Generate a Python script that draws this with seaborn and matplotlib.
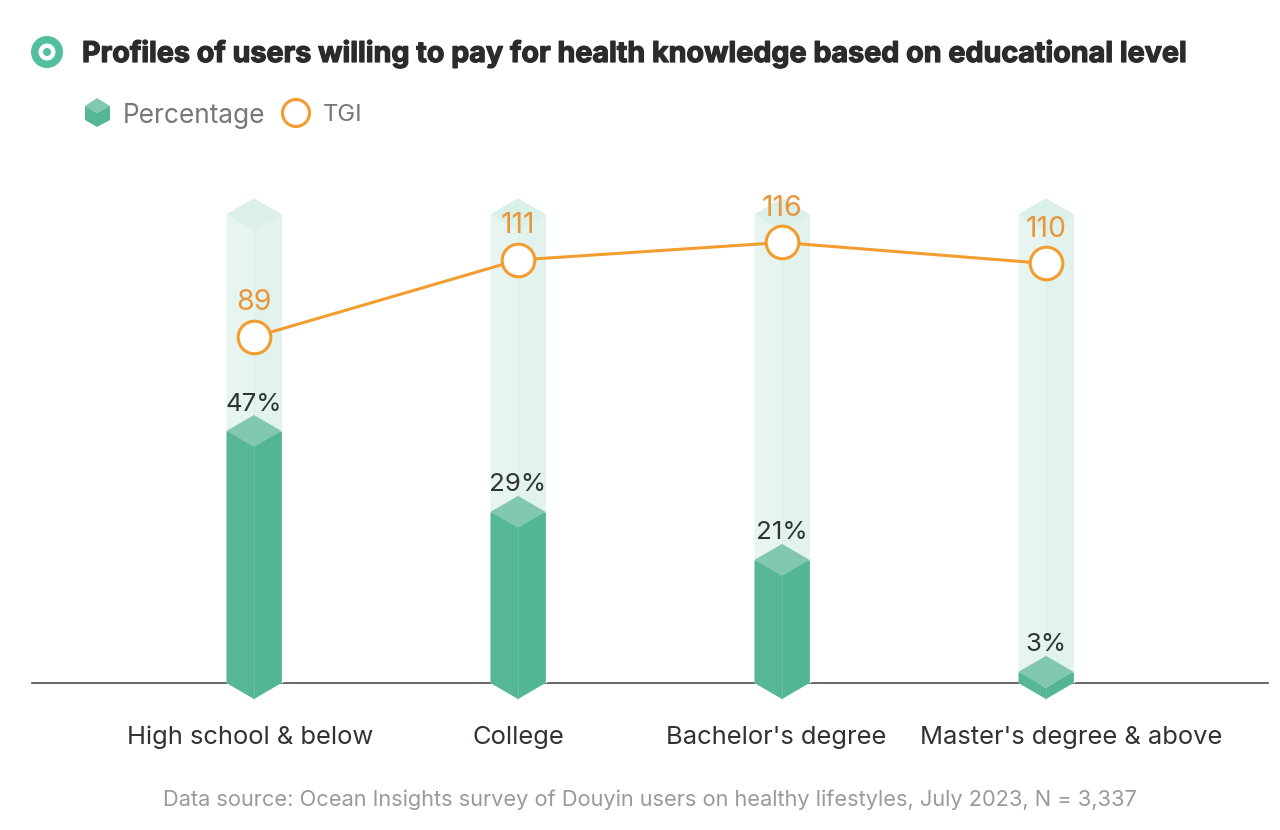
import numpy as np
import pandas as pd
import matplotlib
matplotlib.use("Agg")
import matplotlib.pyplot as plt
import matplotlib.patheffects as pe
import seaborn as sns
from matplotlib.patches import Polygon, Circle
from matplotlib.transforms import ScaledTranslation

# ---- data ----
education = ["High school & below", "College", "Bachelor's degree", "Master's degree & above"]
percentage_labels = ["47%", "29%", "21%", "3%"]
bar_level = [43.0, 29.2, 21.0, 1.9]      # drawn height of each column (units of 1% as drawn)
track_level = [80.0, 80.0, 80.0, 80.0]   # pale background column
tgi = [89, 111, 116, 110]

sns.set_theme(style="white")
plt.rcParams["font.family"] = ["Inter", "DejaVu Sans"]

W, H = 1280, 830
BASE, TOP, LEFT, RIGHT = 683, 170, 32, 1268
PX_PER_PCT, PX_PER_TGI, STEP = 5.86, 3.5, 264.0
HALF_BAR_PX, DIAMOND_PX = 27.5, 16.0

GREEN, GREEN_L, GREEN_TOP = "#52B595", "#56B698", "#82C7B0"
PALE_L, PALE_R, PALE_TOP = "#E7F5F0", "#E2F3ED", "#DAF0E8"
ORANGE, ORANGE_TXT = "#F39C2F", "#E8963A"

df = pd.DataFrame({"education": education, "level": bar_level, "track": track_level, "tgi": tgi})

fig = plt.figure(figsize=(W / 100, H / 100), dpi=100, facecolor="white")
ax = fig.add_axes([LEFT / W, 1 - BASE / H, (RIGHT - LEFT) / W, (BASE - TOP) / H])

width = 2 * HALF_BAR_PX / STEP
sns.barplot(data=df, x="education", y="track", color=PALE_R, saturation=1, width=width, ax=ax, zorder=1)
sns.barplot(data=df, x="education", y="level", color=GREEN, saturation=1, width=width, ax=ax, zorder=2)

ax.set_xlim((LEFT - 254) / STEP, (RIGHT - 254) / STEP)
ax.set_ylim(0, (BASE - TOP) / PX_PER_PCT)
ax.set_xlabel("")
ax.set_ylabel("")
ax.set_yticks([])
for s in ["top", "left", "right"]:
    ax.spines[s].set_visible(False)
ax.spines["bottom"].set_color("#4A4A4A")
ax.spines["bottom"].set_linewidth(1.2)
ax.spines["bottom"].set_zorder(0.5)
ax.tick_params(axis="x", length=0, pad=44, labelsize=18.4, labelcolor="#2F3332")
for lab, dx in zip(ax.get_xticklabels(), [-4, 0, -6, 25]):
    lab.set_va("baseline")
    lab.set_transform(lab.get_transform() + ScaledTranslation(dx / 100, 0, fig.dpi_scale_trans))

hx = width / 2
dy = DIAMOND_PX / PX_PER_PCT


def column(i, level, left, right, top, sep, z):
    """Faces of a 3D column: left and right front faces plus the top diamond."""
    ax.add_patch(Polygon([(i - hx, level), (i, level - dy), (i, -dy), (i - hx, 0)],
                         fc=left, ec="none", zorder=z, clip_on=False))
    ax.add_patch(Polygon([(i + hx, level), (i, level - dy), (i, -dy), (i + hx, 0)],
                         fc=right, ec="none", zorder=z, clip_on=False))
    ax.add_patch(Polygon([(i - hx, level), (i, level + dy), (i + hx, level), (i, level - dy)],
                         fc=top, ec="none", zorder=z + 0.1, clip_on=False))
    ax.plot([i, i], [-dy, level - dy], color=sep, lw=0.6, zorder=z + 0.05, clip_on=False)


for i, (lvl, trk, txt) in enumerate(zip(bar_level, track_level, percentage_labels)):
    column(i, trk, PALE_L, PALE_R, PALE_TOP, "#DCEFE8", 1.5)
    column(i, lvl, GREEN_L, GREEN, GREEN_TOP, "#6CC0A5", 2.5)
    ax.annotate(txt, (i, lvl), xytext=(0, 27 * 0.72), textcoords="offset points",
                ha="center", va="center", fontsize=18.6, color="#2F3332", zorder=6)

ax2 = ax.twinx()
ax2.patch.set_visible(False)
base_tgi = 89 - (BASE - 337) / PX_PER_TGI
ax2.set_ylim(base_tgi, base_tgi + (BASE - TOP) / PX_PER_TGI)
sns.lineplot(data=df, x="education", y="tgi", sort=False, color=ORANGE, lw=2.2, marker="o",
             markersize=23.5, markerfacecolor="white", markeredgecolor=ORANGE, markeredgewidth=2.2,
             errorbar=None, ax=ax2, clip_on=False)
ax2.set_xlim(ax.get_xlim())
ax2.set_ylabel("")
ax2.set_yticks([])
ax2.grid(False)
for s in ax2.spines.values():
    s.set_visible(False)
for i, v in enumerate(tgi):
    ax2.annotate(str(v), (i, v), xytext=(0, 34 * 0.72), textcoords="offset points",
                 ha="center", va="center", fontsize=20.5, color=ORANGE_TXT)

# header, legend keys and footer, in figure pixels
ov = fig.add_axes([0, 0, 1, 1], zorder=10)
ov.set_xlim(0, W)
ov.set_ylim(H, 0)
ov.axis("off")
ov.add_patch(Circle((47, 52), 16, fc="#52BE9E", ec="none"))
ov.add_patch(Circle((47, 52), 8.5, fc="white", ec="none"))
ov.add_patch(Circle((47, 52), 4, fc="#52BE9E", ec="none"))
ov.text(82, 54, "Profiles of users willing to pay for health knowledge based on educational level",
        fontsize=20.65, fontweight="bold", color="#2B2B2B", va="center", ha="left",
        path_effects=[pe.withStroke(linewidth=0.9, foreground="#2B2B2B")])

ov.add_patch(Polygon([(85, 106), (97, 98), (110, 106), (97, 113)], fc=GREEN_TOP, ec="none"))
ov.add_patch(Polygon([(85, 106), (97, 113), (97, 127), (85, 120)], fc=GREEN_L, ec="none"))
ov.add_patch(Polygon([(110, 106), (97, 113), (97, 127), (110, 120)], fc=GREEN, ec="none"))
ov.text(123, 116, "Percentage", fontsize=18.9, color="#777777", va="center", ha="left")
ov.add_patch(Circle((296, 113), 13.5, fc="white", ec=ORANGE, lw=2.2))
ov.text(323, 115, "TGI", fontsize=17.2, color="#777777", va="center", ha="left")
ov.text(650, 800, "Data source: Ocean Insights survey of Douyin users on healthy lifestyles, July 2023, N = 3,337",
        fontsize=15.7, color="#9A9A9A", va="center", ha="center")

fig.savefig("out.png", dpi=100, facecolor="white")
